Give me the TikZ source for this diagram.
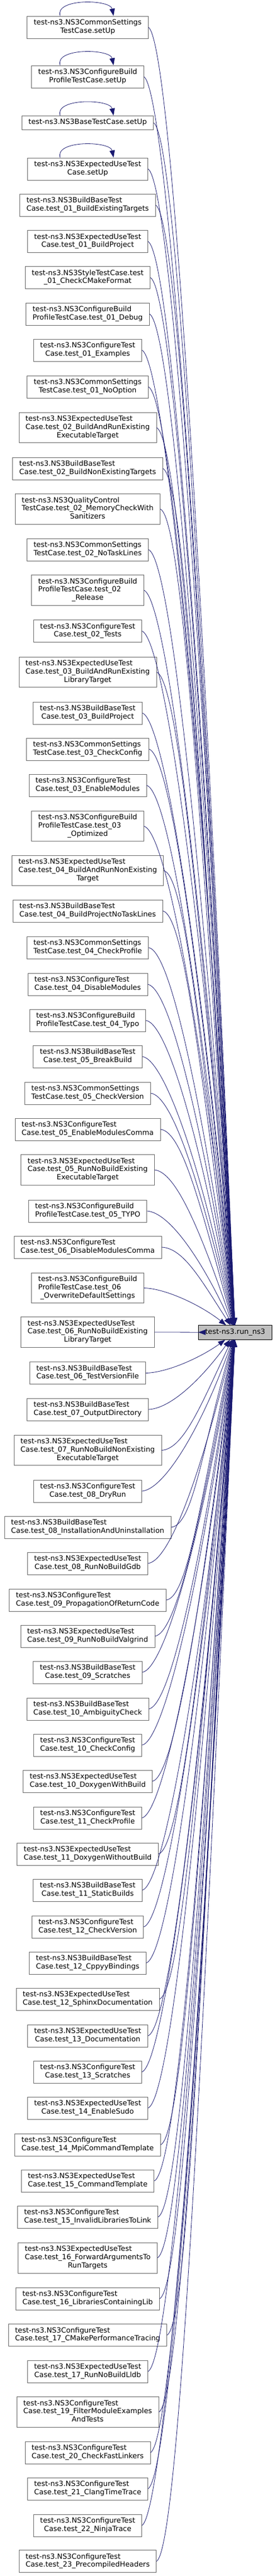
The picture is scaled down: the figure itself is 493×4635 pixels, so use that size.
\documentclass[tikz,border=0pt]{standalone}
\usepackage{fontspec}
\setmainfont{DejaVu Sans}
\usetikzlibrary{arrows.meta,calc}
\definecolor{edgeblue}{HTML}{191970}
\definecolor{boxgray}{HTML}{666666}
\definecolor{mainfill}{HTML}{BFBFBF}
% label lines: all left aligned but the last, which is centred
\newcommand{\lineA}[1]{\begin{tabular}{@{}c@{}}#1\end{tabular}}
\newcommand{\linesB}[2]{\begin{tabular}{@{}l@{}}#1\\\multicolumn{1}{@{}c@{}}{#2}\end{tabular}}
\newcommand{\linesC}[3]{\begin{tabular}{@{}l@{}}#1\\#2\\\multicolumn{1}{@{}c@{}}{#3}\end{tabular}}

\begin{document}
\begin{tikzpicture}[x=1pt,y=1pt,
  caller/.style={draw=boxgray,fill=white,line width=0.8pt,inner xsep=11.9pt,inner ysep=5.3pt,
    font=\fontsize{12.9pt}{14.7pt}\selectfont},
  callee/.style={caller,draw=black,fill=mainfill},
  calls/.style={draw=edgeblue,line width=0.8pt,-{Triangle[length=13pt,width=9.5pt]}}]
\useasboundingbox (0,0) rectangle (493,-4635);

\node[callee] (run) at (422.5,-2397.5) {\lineA{test-ns3.run\_ns3}};

\node[caller] (csSetUp) at (157.5,-49) {\linesB{test-ns3.NS3CommonSettings}{TestCase.setUp}};
\node[caller] (cbpSetUp) at (157.5,-138) {\linesB{test-ns3.NS3ConfigureBuild}{ProfileTestCase.setUp}};
\node[caller] (baseSetUp) at (157.5,-221) {\lineA{test-ns3.NS3BaseTestCase.setUp}};
\node[caller] (euSetUp) at (157.5,-304) {\linesB{test-ns3.NS3ExpectedUseTest}{Case.setUp}};
\node[caller] (b01) at (157.5,-369) {\linesB{test-ns3.NS3BuildBaseTest}{Case.test\_01\_BuildExistingTargets}};
\node[caller] (eu01) at (157.5,-434.5) {\linesB{test-ns3.NS3ExpectedUseTest}{Case.test\_01\_BuildProject}};
\node[caller] (st01) at (157.5,-499.5) {\linesB{test-ns3.NS3StyleTestCase.test}{\_01\_CheckCMakeFormat}};
\node[caller] (cbp01) at (157.5,-565) {\linesB{test-ns3.NS3ConfigureBuild}{ProfileTestCase.test\_01\_Debug}};
\node[caller] (c01) at (157.5,-630) {\linesB{test-ns3.NS3ConfigureTest}{Case.test\_01\_Examples}};
\node[caller] (cs01) at (157.5,-696) {\linesB{test-ns3.NS3CommonSettings}{TestCase.test\_01\_NoOption}};
\node[caller] (eu02) at (157.5,-769.5) {\linesC{test-ns3.NS3ExpectedUseTest}{Case.test\_02\_BuildAndRunExisting}{ExecutableTarget}};
\node[caller] (b02) at (157.5,-843) {\linesB{test-ns3.NS3BuildBaseTest}{Case.test\_02\_BuildNonExistingTargets}};
\node[caller] (qc02) at (157.5,-916) {\linesC{test-ns3.NS3QualityControl}{TestCase.test\_02\_MemoryCheckWith}{Sanitizers}};
\node[caller] (cs02) at (157.5,-989) {\linesB{test-ns3.NS3CommonSettings}{TestCase.test\_02\_NoTaskLines}};
\node[caller] (cbp02) at (157.5,-1062) {\linesC{test-ns3.NS3ConfigureBuild}{ProfileTestCase.test\_02}{\_Release}};
\node[caller] (c02) at (157.5,-1135.5) {\linesB{test-ns3.NS3ConfigureTest}{Case.test\_02\_Tests}};
\node[caller] (eu03) at (157.5,-1209.5) {\linesC{test-ns3.NS3ExpectedUseTest}{Case.test\_03\_BuildAndRunExisting}{LibraryTarget}};
\node[caller] (b03) at (157.5,-1283) {\linesB{test-ns3.NS3BuildBaseTest}{Case.test\_03\_BuildProject}};
\node[caller] (cs03) at (157.5,-1348) {\linesB{test-ns3.NS3CommonSettings}{TestCase.test\_03\_CheckConfig}};
\node[caller] (c03) at (157.5,-1413) {\linesB{test-ns3.NS3ConfigureTest}{Case.test\_03\_EnableModules}};
\node[caller] (cbp03) at (157.5,-1486.5) {\linesC{test-ns3.NS3ConfigureBuild}{ProfileTestCase.test\_03}{\_Optimized}};
\node[caller] (eu04) at (157.5,-1566.5) {\linesC{test-ns3.NS3ExpectedUseTest}{Case.test\_04\_BuildAndRunNonExisting}{Target}};
\node[caller] (b04) at (157.5,-1639) {\linesB{test-ns3.NS3BuildBaseTest}{Case.test\_04\_BuildProjectNoTaskLines}};
\node[caller] (cs04) at (157.5,-1705) {\linesB{test-ns3.NS3CommonSettings}{TestCase.test\_04\_CheckProfile}};
\node[caller] (c04) at (157.5,-1771) {\linesB{test-ns3.NS3ConfigureTest}{Case.test\_04\_DisableModules}};
\node[caller] (cbp04) at (157.5,-1836) {\linesB{test-ns3.NS3ConfigureBuild}{ProfileTestCase.test\_04\_Typo}};
\node[caller] (b05) at (157.5,-1901) {\linesB{test-ns3.NS3BuildBaseTest}{Case.test\_05\_BreakBuild}};
\node[caller] (cs05) at (157.5,-1967) {\linesB{test-ns3.NS3CommonSettings}{TestCase.test\_05\_CheckVersion}};
\node[caller] (c05) at (157.5,-2032) {\linesB{test-ns3.NS3ConfigureTest}{Case.test\_05\_EnableModulesComma}};
\node[caller] (eu05) at (157.5,-2105) {\linesC{test-ns3.NS3ExpectedUseTest}{Case.test\_05\_RunNoBuildExisting}{ExecutableTarget}};
\node[caller] (cbp05) at (157.5,-2179) {\linesB{test-ns3.NS3ConfigureBuild}{ProfileTestCase.test\_05\_TYPO}};
\node[caller] (c06) at (157.5,-2244) {\linesB{test-ns3.NS3ConfigureTest}{Case.test\_06\_DisableModulesComma}};
\node[caller] (cbp06) at (157.5,-2317.5) {\linesC{test-ns3.NS3ConfigureBuild}{ProfileTestCase.test\_06}{\_OverwriteDefaultSettings}};
\node[caller] (eu06) at (157.5,-2397) {\linesC{test-ns3.NS3ExpectedUseTest}{Case.test\_06\_RunNoBuildExisting}{LibraryTarget}};
\node[caller] (b06) at (157.5,-2470.5) {\linesB{test-ns3.NS3BuildBaseTest}{Case.test\_06\_TestVersionFile}};
\node[caller] (b07) at (157.5,-2536) {\linesB{test-ns3.NS3BuildBaseTest}{Case.test\_07\_OutputDirectory}};
\node[caller] (eu07) at (157.5,-2609.5) {\linesC{test-ns3.NS3ExpectedUseTest}{Case.test\_07\_RunNoBuildNonExisting}{ExecutableTarget}};
\node[caller] (c08) at (157.5,-2683) {\linesB{test-ns3.NS3ConfigureTest}{Case.test\_08\_DryRun}};
\node[caller] (b08) at (157.5,-2748) {\linesB{test-ns3.NS3BuildBaseTest}{Case.test\_08\_InstallationAndUninstallation}};
\node[caller] (eu08) at (157.5,-2813) {\linesB{test-ns3.NS3ExpectedUseTest}{Case.test\_08\_RunNoBuildGdb}};
\node[caller] (c09) at (157.5,-2879) {\linesB{test-ns3.NS3ConfigureTest}{Case.test\_09\_PropagationOfReturnCode}};
\node[caller] (eu09) at (157.5,-2944) {\linesB{test-ns3.NS3ExpectedUseTest}{Case.test\_09\_RunNoBuildValgrind}};
\node[caller] (b09) at (157.5,-3009) {\linesB{test-ns3.NS3BuildBaseTest}{Case.test\_09\_Scratches}};
\node[caller] (b10) at (157.5,-3075) {\linesB{test-ns3.NS3BuildBaseTest}{Case.test\_10\_AmbiguityCheck}};
\node[caller] (c10) at (157.5,-3140) {\linesB{test-ns3.NS3ConfigureTest}{Case.test\_10\_CheckConfig}};
\node[caller] (eu10) at (157.5,-3205) {\linesB{test-ns3.NS3ExpectedUseTest}{Case.test\_10\_DoxygenWithBuild}};
\node[caller] (c11) at (157.5,-3271) {\linesB{test-ns3.NS3ConfigureTest}{Case.test\_11\_CheckProfile}};
\node[caller] (eu11) at (157.5,-3336) {\linesB{test-ns3.NS3ExpectedUseTest}{Case.test\_11\_DoxygenWithoutBuild}};
\node[caller] (b11) at (157.5,-3401) {\linesB{test-ns3.NS3BuildBaseTest}{Case.test\_11\_StaticBuilds}};
\node[caller] (c12) at (157.5,-3467) {\linesB{test-ns3.NS3ConfigureTest}{Case.test\_12\_CheckVersion}};
\node[caller] (b12) at (157.5,-3532) {\linesB{test-ns3.NS3BuildBaseTest}{Case.test\_12\_CppyyBindings}};
\node[caller] (eu12) at (157.5,-3597) {\linesB{test-ns3.NS3ExpectedUseTest}{Case.test\_12\_SphinxDocumentation}};
\node[caller] (eu13) at (157.5,-3663) {\linesB{test-ns3.NS3ExpectedUseTest}{Case.test\_13\_Documentation}};
\node[caller] (c13) at (157.5,-3728) {\linesB{test-ns3.NS3ConfigureTest}{Case.test\_13\_Scratches}};
\node[caller] (eu14) at (157.5,-3793) {\linesB{test-ns3.NS3ExpectedUseTest}{Case.test\_14\_EnableSudo}};
\node[caller] (c14) at (157.5,-3859) {\linesB{test-ns3.NS3ConfigureTest}{Case.test\_14\_MpiCommandTemplate}};
\node[caller] (eu15) at (157.5,-3924) {\linesB{test-ns3.NS3ExpectedUseTest}{Case.test\_15\_CommandTemplate}};
\node[caller] (c15) at (157.5,-3989) {\linesB{test-ns3.NS3ConfigureTest}{Case.test\_15\_InvalidLibrariesToLink}};
\node[caller] (eu16) at (157.5,-4062.5) {\linesC{test-ns3.NS3ExpectedUseTest}{Case.test\_16\_ForwardArgumentsTo}{RunTargets}};
\node[caller] (c16) at (157.5,-4136) {\linesB{test-ns3.NS3ConfigureTest}{Case.test\_16\_LibrariesContainingLib}};
\node[caller] (c17) at (157.5,-4201.5) {\linesB{test-ns3.NS3ConfigureTest}{Case.test\_17\_CMakePerformanceTracing}};
\node[caller] (eu17) at (157.5,-4267) {\linesB{test-ns3.NS3ExpectedUseTest}{Case.test\_17\_RunNoBuildLldb}};
\node[caller] (c19) at (157.5,-4340) {\linesC{test-ns3.NS3ConfigureTest}{Case.test\_19\_FilterModuleExamples}{AndTests}};
\node[caller] (c20) at (157.5,-4413) {\linesB{test-ns3.NS3ConfigureTest}{Case.test\_20\_CheckFastLinkers}};
\node[caller] (c21) at (157.5,-4478) {\linesB{test-ns3.NS3ConfigureTest}{Case.test\_21\_ClangTimeTrace}};
\node[caller] (c22) at (157.5,-4544) {\linesB{test-ns3.NS3ConfigureTest}{Case.test\_22\_NinjaTrace}};
\node[caller] (c23) at (157.5,-4608.5) {\linesB{test-ns3.NS3ConfigureTest}{Case.test\_23\_PrecompiledHeaders}};

% setUp methods call themselves
\foreach \s in {csSetUp,cbpSetUp,baseSetUp,euSetUp}
  \draw[calls] ([xshift=-49.5pt]\s.north) .. controls +(-10,32) and +(-6,30) .. ([xshift=46.5pt]\s.north);

% every caller goes into run_ns3
\foreach \c in {csSetUp,cbpSetUp,baseSetUp,euSetUp,b01,eu01,st01,cbp01,c01,cs01,
    eu02,b02,qc02,cs02,cbp02,c02,eu03,b03,cs03,c03,cbp03,eu04,b04,cs04,c04,cbp04,
    b05,cs05,c05,eu05,cbp05,c06,cbp06,eu06,b06,b07,eu07,c08,b08,eu08,c09,eu09,b09,
    b10,c10,eu10,c11,eu11,b11,c12,b12,eu12,eu13,c13,eu14,c14,eu15,c15,eu16,c16,
    c17,eu17,c19,c20,c21,c22,c23}
  \draw[calls] let \p1=(\c.east), \p2=(run.center) in
    (\p1) .. controls ({\x1+40pt},{\y1+0.012*((\y2)-(\y1))})
             and ({\x2-60pt},{\y2+0.6*((\y1)-(\y2))}) .. (run);
\end{tikzpicture}
\end{document}
